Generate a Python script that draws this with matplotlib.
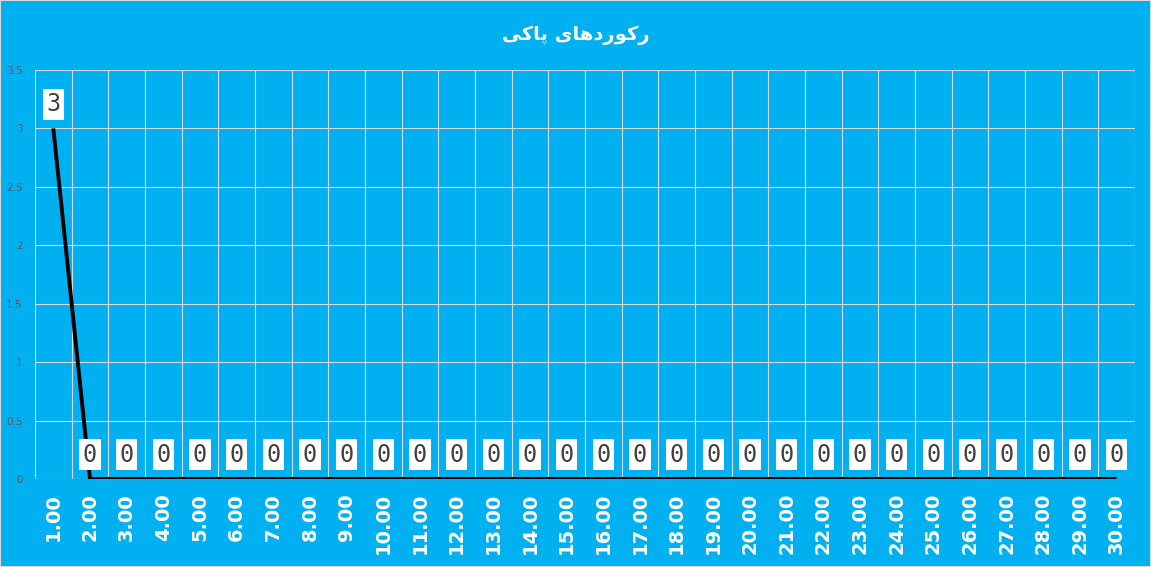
import numpy as np
import matplotlib.pyplot as plt
from matplotlib.patches import Rectangle

# data
days = list(range(1, 31))
day_labels = ["%.2f" % d for d in days]
records = [3, 0, 0, 0, 0, 0, 0, 0, 0, 0,
           0, 0, 0, 0, 0, 0, 0, 0, 0, 0,
           0, 0, 0, 0, 0, 0, 0, 0, 0, 0]
y_ticks = [0, 0.5, 1, 1.5, 2, 2.5, 3, 3.5]
y_tick_labels = ["0", "0.5", "1", "1.5", "2", "2.5", "3", "3.5"]

# "رکوردهای پاکی" written in shaped presentation forms, visual (left to right) order
title = "\uFBFD\uFB90\uFE8E\uFB58 \uFBFC\uFE8E\uFEEB\uFEA9\uFEAD\uFEEE\uFB90\uFEAD"

bg = "#00B0F0"
grid_col = "#D9D9D9"

fig = plt.figure(figsize=(11.51, 5.67), dpi=100, facecolor=bg)
ax = fig.add_axes([35 / 1151, 88 / 567, 1100 / 1151, 409 / 567])
ax.set_facecolor(bg)

ax.plot(days, records, color="black", lw=2.8, solid_capstyle="butt", zorder=3)

for d, v in zip(days, records):
    ax.annotate(str(v), (d, v), xytext=(0, 17.5), textcoords="offset points",
                ha="center", va="center", fontsize=17, color="#404040",
                family="DejaVu Sans Mono", zorder=5,
                bbox=dict(boxstyle="square,pad=0.15", fc="white", ec="none"))

ax.set_xlim(0.5, 30.5)
ax.set_ylim(0, 3.5)
ax.set_xticks(days)
ax.set_xticklabels(day_labels, rotation=90, color="white", fontsize=14,
                   fontweight="bold")
ax.set_xticks(np.arange(0.5, 31, 1), minor=True)
ax.set_yticks(y_ticks)
ax.set_yticklabels(y_tick_labels, color="#595959", fontsize=7.5)
ax.tick_params(axis="both", which="both", length=0)
ax.tick_params(axis="x", pad=10)
ax.tick_params(axis="y", pad=9)
ax.grid(axis="y", which="major", color=grid_col, lw=0.8)
ax.grid(axis="x", which="minor", color=grid_col, lw=0.8)
ax.grid(axis="x", which="major", visible=False)
for s in ax.spines.values():
    s.set_visible(False)
ax.set_axisbelow(True)

fig.text(0.5, 1 - 35 / 567, title, ha="center", va="center", color="white",
         fontsize=14, fontweight="bold", family=["DejaVu Sans"])

fig.add_artist(Rectangle((0, 0), 1, 1, transform=fig.transFigure, fill=False,
                         ec="#D9D9D9", lw=1.5))

fig.savefig("out.png", dpi=100, facecolor=bg)
